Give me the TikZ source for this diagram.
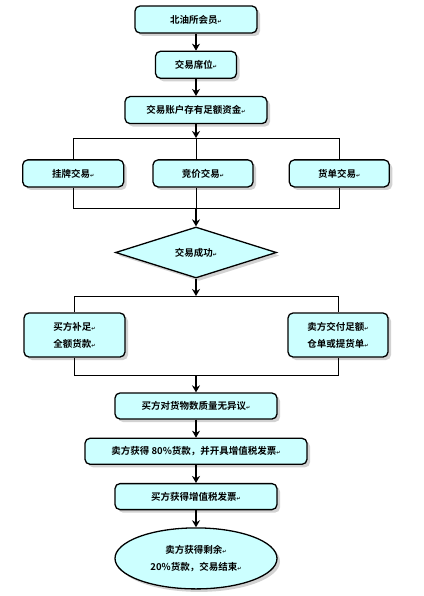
\documentclass[tikz,border=0pt]{standalone}
\usepackage{fontspec}
\setmainfont{Noto Sans CJK SC}[BoldFont={* Bold}]
\newfontfamily\symfont{DejaVu Sans}
\usepackage{tikz}
\usetikzlibrary{positioning,shapes.geometric,shadows,arrows.meta}
\definecolor{boxfill}{RGB}{204,255,255}
\newcommand{\ret}{{\symfont\fontsize{5}{5}\selectfont ↵}}

\begin{document}
\begin{tikzpicture}[x=1pt,y=1pt,
		font=\fontsize{9.5}{17}\selectfont\bfseries,
		node distance=17pt,
		stepbox/.style={draw, line width=1.3pt, rounded corners=5pt, fill=boxfill,
			inner sep=0pt, minimum height=27pt, align=center,
			drop shadow={shadow xshift=3pt, shadow yshift=-3pt, fill=gray!70}},
		flow/.style={-{Stealth[length=7pt,width=8pt]}, line width=1.8pt},
		branch/.style={line width=0.8pt}]
		\useasboundingbox (0,0) rectangle (423,-596);
		\node (m1) [stepbox, minimum width=122pt] at (196,-19.5) {北油所会员\ret};
		\node (m2) [stepbox, minimum width=81pt,  below=of m1] {交易席位\ret};
		\node (m3) [stepbox, minimum width=142pt, below=of m2] {交易账户存有足额资金\ret};
		\node (t2) [stepbox, minimum width=100pt, below=35pt of m3, xshift=7pt] {竞价交易\ret};
		\node (t1) [stepbox, minimum width=101pt, left=28pt of t2] {挂牌交易\ret};
		\node (t3) [stepbox, minimum width=100pt, right=35pt of t2] {货单交易\ret};
		\coordinate (j1) at (196,-138);
		\coordinate (j2) at (196,-208);
		\node (d) [diamond, aspect=3, draw, line width=1.3pt, fill=boxfill, inner sep=0pt,
			minimum width=161pt, minimum height=51pt,
			drop shadow={shadow xshift=3pt, shadow yshift=-3pt, fill=gray!70}]
			at (196,-252.5) {交易成功\ret};
		\coordinate (j3) at (196,-296);
		\node (b1) [stepbox, minimum width=101pt, minimum height=44pt] at (74.5,-335) {买方补足\ret\\全额货款\ret};
		\node (b2) [stepbox, minimum width=100pt, minimum height=44pt] at (338,-335) {卖方交付足额\ret\\仓单或提货单\ret};
		\coordinate (j4) at (196,-375);
		\node (s1) [stepbox, minimum width=162pt, minimum height=26pt] at (196,-406) {买方对货物数质量无异议\ret};
		\node (s2) [stepbox, minimum width=222pt, minimum height=26pt, below=18pt of s1] {卖方获得 80\%货款，并开具增值税发票\ret};
		\node (s3) [stepbox, minimum width=162pt, minimum height=26pt, below=18pt of s2] {买方获得增值税发票\ret};
		\node (e)  [ellipse, draw, line width=1.3pt, fill=boxfill, inner sep=0pt, align=center,
			minimum width=162pt, minimum height=61pt, below=17pt of s3,
			drop shadow={shadow xshift=3pt, shadow yshift=-3pt, fill=gray!70}]
			{卖方获得剩余\ret\\20\%货款，交易结束\ret};
		% main chain
		\draw [flow] (m1) -- (m2);
		\draw [flow] (m2) -- (m3);
		\draw [flow] (m3) -- (j1);
		% three ways of trading
		\draw [branch] (t1.north |- j1) -- (t3.north |- j1);
		\draw [branch] (t1.north |- j1) -- (t1.north);
		\draw [branch] (j1) -- (j1 |- t2.north);
		\draw [branch] (t3.north |- j1) -- (t3.north);
		\draw [branch] (t1.south) -- (t1.south |- j2) -- (t3.south |- j2) -- (t3.south);
		\draw [branch] (j1 |- t2.south) -- (j2);
		\draw [flow] (j2) -- (d.north);
		\draw [flow] (d.south) -- (j3);
		% buyer and seller
		\draw [branch] (b1.north) -- (b1.north |- j3) -- (b2.north |- j3) -- (b2.north);
		\draw [branch] (b1.south) -- (b1.south |- j4) -- (b2.south |- j4) -- (b2.south);
		\draw [flow] (j4) -- (s1);
		\draw [flow] (s1) -- (s2);
		\draw [flow] (s2) -- (s3);
		\draw [flow] (s3) -- (e);
\end{tikzpicture}
\end{document}
